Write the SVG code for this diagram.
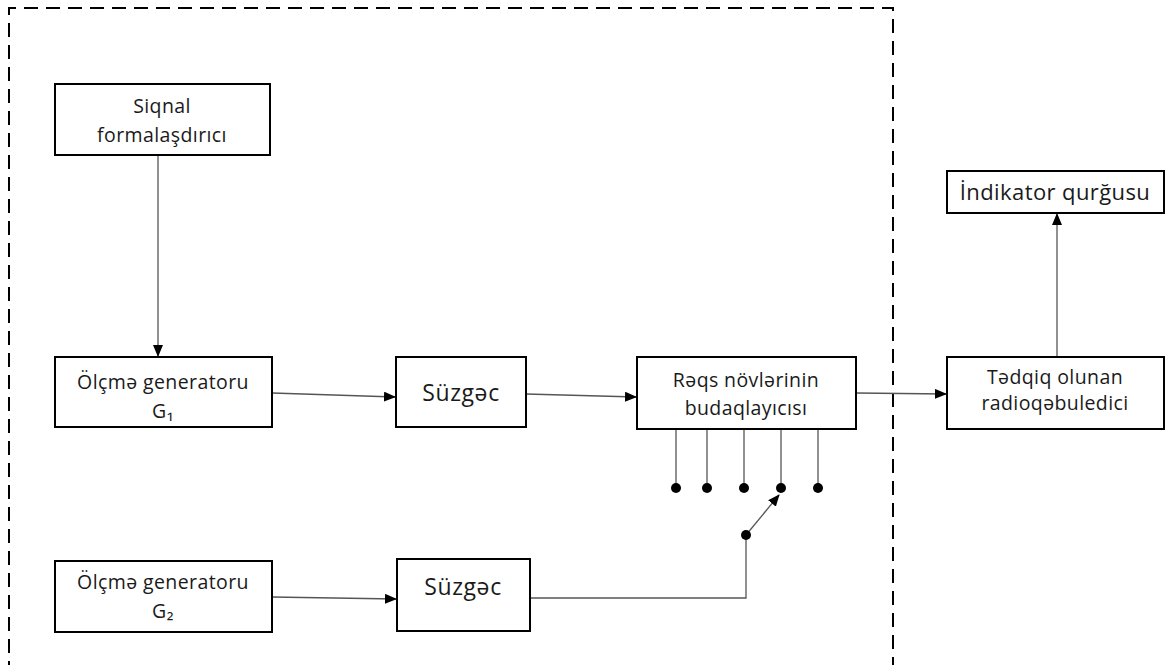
<svg xmlns="http://www.w3.org/2000/svg" width="1170" height="665" viewBox="0 0 1170 665">
<style>
.box{fill:#fff;stroke:#000;stroke-width:2}
.t{font-family:"Open Sans","Noto Sans",sans-serif;font-size:19.5px;letter-spacing:0.4px;fill:#1a1a1a;text-anchor:middle}
.big{font-size:23px;letter-spacing:0.6px}
.c{stroke:#555;stroke-width:1.3;fill:none}
.dot{fill:#000}
</style>
<defs>
<marker id="ah" markerWidth="12" markerHeight="10" refX="11" refY="5" orient="auto" markerUnits="userSpaceOnUse">
<path d="M0,0 L12,5 L0,10 Z" fill="#000"/>
</marker>
</defs>
<rect width="1170" height="665" fill="#fff"/>
<path id="frame" d="M9,675 V8 H893 V675" fill="none" stroke="#000" stroke-width="2" stroke-dasharray="14,8"/>
<g id="connectors">
<line class="c" x1="158" y1="155" x2="158" y2="356" marker-end="url(#ah)"/>
<line class="c" x1="272" y1="393" x2="395" y2="397" marker-end="url(#ah)"/>
<line class="c" x1="526" y1="394" x2="636" y2="397" marker-end="url(#ah)"/>
<line class="c" x1="856" y1="393" x2="946" y2="394" marker-end="url(#ah)"/>
<line class="c" x1="1057" y1="357" x2="1057" y2="214" marker-end="url(#ah)"/>
<line class="c" x1="272" y1="597" x2="396" y2="599" marker-end="url(#ah)"/>
<polyline class="c" points="530,598 746,598 746,535"/>
<line class="c" x1="676" y1="429" x2="676" y2="488"/>
<line class="c" x1="707" y1="429" x2="707" y2="488"/>
<line class="c" x1="744" y1="429" x2="744" y2="488"/>
<line class="c" x1="781" y1="429" x2="781" y2="488"/>
<line class="c" x1="818" y1="429" x2="818" y2="488"/>
<line class="c" x1="746" y1="535" x2="779" y2="495" marker-end="url(#ah)"/>
<circle class="dot" cx="676" cy="488" r="5"/>
<circle class="dot" cx="707" cy="488" r="5"/>
<circle class="dot" cx="744" cy="488" r="5"/>
<circle class="dot" cx="781" cy="488" r="5"/>
<circle class="dot" cx="818" cy="488" r="5"/>
<circle class="dot" cx="746" cy="535" r="5"/>
</g>
<g id="siqnal">
<rect class="box" x="55" y="84" width="215" height="71"/>
<text class="t" x="162" y="113">Siqnal</text>
<text class="t" x="162" y="142">formalaşdırıcı</text>
</g>
<g id="g1">
<rect class="box" x="55" y="357" width="217" height="70"/>
<text class="t" x="163" y="389">Ölçmə generatoru</text>
<text class="t" x="163" y="418">G₁</text>
</g>
<g id="suzgec1">
<rect class="box" x="396" y="357" width="130" height="70"/>
<text class="t big" x="461" y="401">Süzgəc</text>
</g>
<g id="reqs">
<rect class="box" x="637" y="357" width="219" height="72"/>
<text class="t" x="746" y="387">Rəqs növlərinin</text>
<text class="t" x="746" y="415">budaqlayıcısı</text>
</g>
<g id="tedqiq">
<rect class="box" x="947" y="357" width="217" height="72"/>
<text class="t" x="1055" y="384">Tədqiq olunan</text>
<text class="t" x="1055" y="410">radioqəbuledici</text>
</g>
<g id="indikator">
<rect class="box" x="947" y="171" width="217" height="42"/>
<text class="t" x="1055" y="200" style="font-size:22px">İndikator qurğusu</text>
</g>
<g id="g2">
<rect class="box" x="55" y="561" width="217" height="71"/>
<text class="t" x="163" y="589">Ölçmə generatoru</text>
<text class="t" x="163" y="618">G₂</text>
</g>
<g id="suzgec2">
<rect class="box" x="397" y="559" width="133" height="72"/>
<text class="t big" x="463" y="595">Süzgəc</text>
</g>
</svg>
